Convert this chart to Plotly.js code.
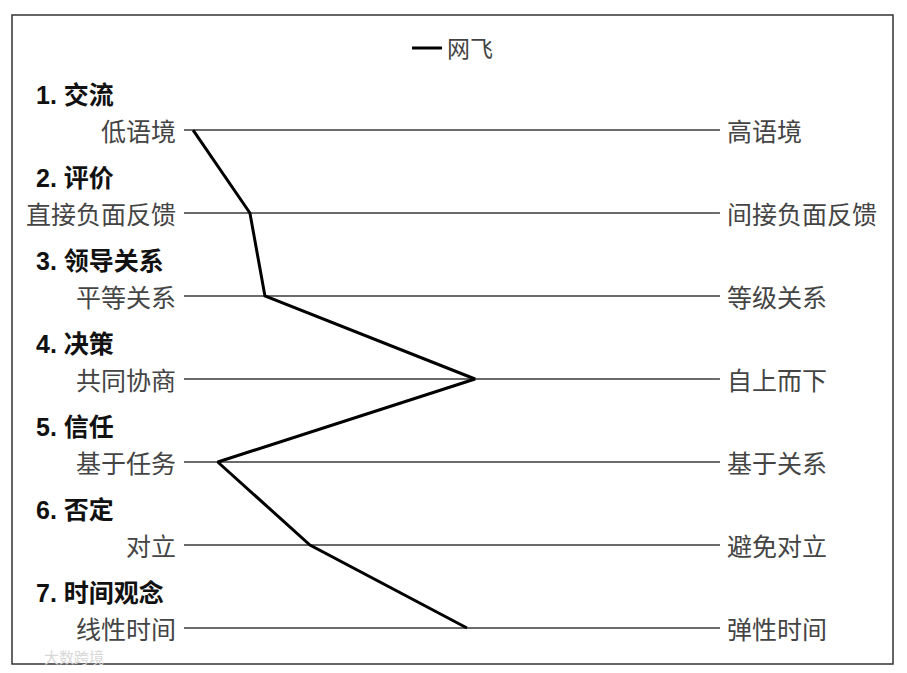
<!DOCTYPE html>
<html>
<head>
<meta charset="utf-8">
<script src="https://cdn.plot.ly/plotly-3.0.1.min.js"></script>
<style>html,body{margin:0;padding:0;background:#fff;}#chart{width:907px;height:673px;}</style>
</head>
<body>
<div id="chart"></div>
<script>
const categories = ["1. 交流", "2. 评价", "3. 领导关系", "4. 决策", "5. 信任", "6. 否定", "7. 时间观念"];
const leftLabels = ["低语境", "直接负面反馈", "平等关系", "共同协商", "基于任务", "对立", "线性时间"];
const rightLabels = ["高语境", "间接负面反馈", "等级关系", "自上而下", "基于关系", "避免对立", "弹性时间"];
const seriesName = "网飞";
const netflixValues = [1.7, 12.3, 15.1, 54.3, 6.3, 23.5, 52.8];
const scaleMin = 0, scaleMax = 100;

const rows = categories.map((c, i) => i + 1);
const cjk = "'Noto Sans CJK SC', 'Noto Sans', sans-serif";
const boldFont = "'Liberation Sans', Arial, 'Noto Sans CJK SC', sans-serif";

const scaleX = [], scaleY = [];
rows.forEach(r => { scaleX.push(scaleMin, scaleMax, null); scaleY.push(r, r, null); });

const traces = [
  {x: scaleX, y: scaleY, mode: "lines", line: {color: "#3a3a3a", width: 1.5}, showlegend: false, hoverinfo: "skip"},
  {x: netflixValues, y: rows, mode: "lines", name: seriesName, line: {color: "#000", width: 3}}
];

const annotations = [];
rows.forEach((r, i) => {
  annotations.push({x: scaleMin, y: r, xref: "x", yref: "y", text: leftLabels[i], showarrow: false,
    xanchor: "right", yanchor: "middle", xshift: -6, font: {family: cjk, size: 25, color: "#444"}});
  annotations.push({x: scaleMax, y: r, xref: "x", yref: "y", text: rightLabels[i], showarrow: false,
    xanchor: "left", yanchor: "middle", xshift: 5, font: {family: cjk, size: 25, color: "#444"}});
  annotations.push({x: 0.0245, y: r - 0.42, xref: "paper", yref: "y", text: "<b>" + categories[i] + "</b>", showarrow: false,
    xanchor: "left", yanchor: "middle", font: {family: boldFont, size: 25, color: "#111"}});
});
annotations.push({x: 0.0, y: 0.012, xref: "paper", yref: "paper", text: "大数跨境", showarrow: false,
  xanchor: "left", yanchor: "middle", xshift: 30, font: {family: cjk, size: 15, color: "#d8d8d8"}});

const layout = {
  width: 907, height: 673,
  margin: {l: 12, r: 14, t: 15, b: 9},
  paper_bgcolor: "#fff", plot_bgcolor: "#fff",
  xaxis: {range: [-32.09, 132.28], visible: false, fixedrange: true},
  yaxis: {range: [7.434, -0.386], visible: false, fixedrange: true},
  showlegend: true,
  legend: {orientation: "h", x: 0.5, xanchor: "center", y: 0.949, yanchor: "middle",
    font: {family: cjk, size: 23, color: "#444"}, bgcolor: "rgba(0,0,0,0)"},
  shapes: [{type: "rect", xref: "paper", yref: "paper", x0: 0, x1: 1, y0: 0, y1: 1,
    line: {color: "#333", width: 1.5}}],
  annotations: annotations
};

Plotly.newPlot("chart", traces, layout, {displayModeBar: false, staticPlot: true});
</script>
</body>
</html>
